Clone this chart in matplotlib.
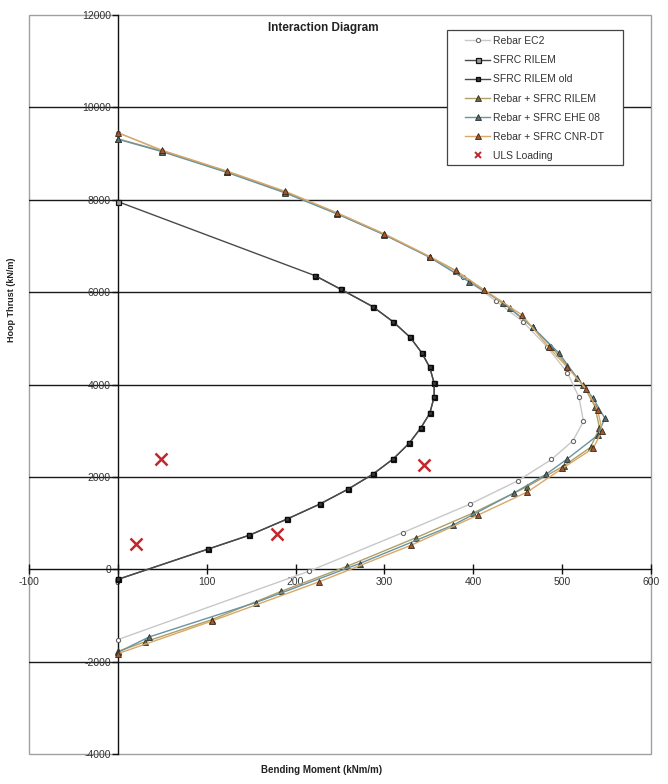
import matplotlib
matplotlib.use("Agg")
import matplotlib.pyplot as plt
from matplotlib.patches import Rectangle

plt.rcParams['font.family'] = ['Liberation Sans', 'DejaVu Sans']

# ---------------- data ----------------
ec2_m = [0, 50, 123, 188, 247, 300, 350, 388, 425, 456, 483, 506, 519, 524, 512, 488, 450, 396, 321, 215, 0]
ec2_t = [9455, 9060, 8600, 8165, 7700, 7245, 6760, 6334, 5814, 5359, 4817, 4254, 3720, 3200, 2780, 2377, 1914, 1408, 795, -43, -1523]

rilem_m = [0, 222, 251, 287, 310, 329, 342, 351, 356, 356, 351, 341, 328, 310, 287, 259, 227, 190, 148, 101, 0]
rilem_t = [7960, 6356, 6061, 5684, 5355, 5021, 4687, 4370, 4024, 3734, 3374, 3062, 2730, 2390, 2058, 1733, 1408, 1083, 737, 433, -220]

rilem_old_m = [222, 251, 287, 310, 329, 342, 351, 356, 356, 351, 341, 328, 310, 287, 259, 227, 190, 148, 101, 0]
rilem_old_t = [6356, 6061, 5684, 5355, 5021, 4687, 4370, 4024, 3734, 3374, 3062, 2730, 2390, 2058, 1733, 1408, 1083, 737, 433, -220]

rb_rilem_m = [0, 50, 123, 188, 247, 300, 351, 380, 412, 441, 467, 488, 506, 524, 537, 542, 532, 502, 460, 400, 336, 258, 184, 106, 30, 0]
rb_rilem_t = [9320, 9055, 8605, 8170, 7705, 7250, 6765, 6465, 6046, 5649, 5238, 4817, 4399, 3980, 3520, 3060, 2640, 2240, 1783, 1220, 687, 65, -477, -1090, -1575, -1780]

rb_ehe_m = [0, 50, 123, 188, 247, 300, 351, 395, 434, 467, 496, 517, 535, 548, 540, 505, 482, 446, 377, 272, 155, 35, 0]
rb_ehe_t = [9311, 9040, 8590, 8150, 7690, 7240, 6755, 6226, 5771, 5238, 4687, 4140, 3700, 3270, 2900, 2377, 2058, 1653, 953, 123, -722, -1467, -1800]

rb_cnr_m = [0, 50, 123, 188, 247, 300, 351, 380, 412, 455, 485, 506, 527, 540, 545, 535, 500, 461, 405, 330, 226, 106, 0]
rb_cnr_t = [9450, 9070, 8620, 8185, 7715, 7260, 6770, 6470, 6050, 5504, 4804, 4370, 3900, 3450, 3000, 2620, 2182, 1675, 1170, 520, -275, -1120, -1827]

uls_m = [20, 49, 179, 345]
uls_t = [557, 2383, 758, 2254]

x_ticks = [-100, 0, 100, 200, 300, 400, 500, 600]
y_ticks = [-4000, -2000, 0, 2000, 4000, 6000, 8000, 10000, 12000]

# ---------------- figure ----------------
fig = plt.figure(figsize=(6.68, 7.84), dpi=100)
ax = fig.add_axes([29/668, 1-754/784, (651-29)/668, (754-15)/784])
ax.set_xlim(-100, 600)
ax.set_ylim(-4000, 12000)

for yv in y_ticks[1:-1]:
    if yv != 0:
        ax.axhline(yv, color='#1a1a1a', lw=1.0, zorder=1)

ax.plot(ec2_m, ec2_t, color='#c8c8c8', lw=1.0, marker='o', ms=3,
        mfc='white', mec='#666666', mew=0.8, label='Rebar EC2', zorder=3)
ax.plot(rilem_m, rilem_t, color='#4a4a4a', lw=1.0, marker='s', ms=3.6,
        mfc='#9a9a9a', mec='#111111', mew=0.9, label='SFRC RILEM', zorder=3)
ax.plot(rilem_old_m, rilem_old_t, color='#4a4a4a', lw=1.0, marker='s', ms=3.4,
        mfc='#3a3a3a', mec='#0a0a0a', mew=0.9, label='SFRC RILEM old', zorder=4)
ax.plot(rb_rilem_m, rb_rilem_t, color='#b0a064', lw=1.0, marker='^', ms=4.0,
        mfc='#6e6a40', mec='#333322', mew=0.6, label='Rebar + SFRC RILEM', zorder=3)
ax.plot(rb_ehe_m, rb_ehe_t, color='#6a93a3', lw=1.0, marker='^', ms=4.0,
        mfc='#5a6a6a', mec='#2a3333', mew=0.6, label='Rebar + SFRC EHE 08', zorder=3)
ax.plot(rb_cnr_m, rb_cnr_t, color='#d9a866', lw=1.0, marker='^', ms=4.0,
        mfc='#a5562e', mec='#3a2a1a', mew=0.6, label='Rebar + SFRC CNR-DT', zorder=3)
ax.plot(uls_m, uls_t, linestyle='none', marker='x', ms=8, mew=1.8,
        color='#c0282e', label='ULS Loading', zorder=5)

# axes crossing at zero
for s in ['top', 'right']:
    ax.spines[s].set_visible(False)
ax.spines['left'].set_position(('data', 0))
ax.spines['bottom'].set_position(('data', 0))
for s in ['left', 'bottom']:
    ax.spines[s].set_color('#111111')
    ax.spines[s].set_linewidth(1.0)
    ax.spines[s].set_zorder(2)
ax.add_patch(Rectangle((0, 0), 1, 1, transform=ax.transAxes, fill=False,
                       edgecolor='#a0a0a0', lw=1.0, zorder=0.5, clip_on=False))

ax.set_xticks(x_ticks)
ax.set_yticks(y_ticks)
ax.set_xticklabels([str(v) for v in x_ticks])
ax.set_yticklabels([str(v) for v in y_ticks])
ax.tick_params(axis='x', direction='inout', length=7, width=1, labelsize=7.5,
               colors='#111111', labelcolor='#333333', pad=2)
ax.tick_params(axis='y', direction='out', length=4, width=1, labelsize=7.5,
               colors='#111111', labelcolor='#333333', pad=1)

fig.text(323/668, 1-28/784, 'Interaction Diagram', ha='center', va='center',
         fontsize=8.5, fontweight='bold', color='#222222')
fig.text(12/668, 1-300/784, 'Hoop Thrust (kN/m)', ha='center', va='center',
         rotation=90, fontsize=6.5, fontweight='bold', color='#222222')
fig.text(322/668, 1-770/784, 'Bending Moment (kNm/m)', ha='center', va='center',
         fontsize=7, fontweight='bold', color='#222222')

# legend frame drawn separately to match padding
frame = Rectangle((447/668, 1-165/784), (623-447)/668, (165-30)/784,
                  transform=fig.transFigure, fill=True, facecolor='white',
                  edgecolor='#444444', lw=0.9, zorder=6, clip_on=False)
ax.add_artist(frame)
leg = ax.legend(loc='upper left', bbox_to_anchor=(465/668, 1-36/784),
                bbox_transform=fig.transFigure, fontsize=7.5, frameon=False,
                handlelength=2.4, handletextpad=0.25, labelspacing=0.88,
                borderpad=0, borderaxespad=0)
leg.set_zorder(7)
leg.legend_handles[-1].set_markersize(5)
leg.legend_handles[-1].set_markeredgewidth(1.4)
for t in leg.get_texts():
    t.set_color('#333333')

fig.savefig('out.png', dpi=100)
